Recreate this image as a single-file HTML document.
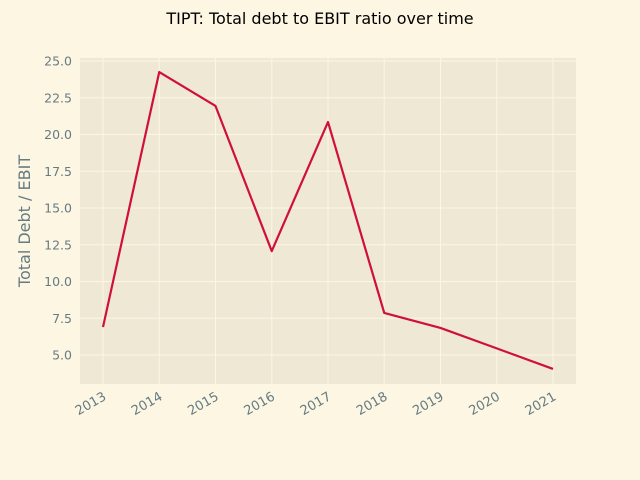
<!DOCTYPE html>
<html><head><meta charset="utf-8"><style>
body{margin:0;background:#fdf6e3;}
svg{display:block;font-family:"DejaVu Sans","Liberation Sans",sans-serif;}
</style></head><body>
<svg id="chart" width="640" height="480">
<rect width="640" height="480" fill="#fdf6e3"/>
<text x="320" y="24" text-anchor="middle" font-size="16" fill="#000">TIPT: Total debt to EBIT ratio over time</text>
<rect x="80" y="58" width="496" height="326" fill="#eee8d5"/>
<g id="grid"></g><g id="ticks"></g><g id="series"></g>
<text transform="translate(30,221) rotate(-90)" text-anchor="middle" font-size="16" fill="#657b83">Total Debt / EBIT</text>
</svg>
<script>
const years=[2013,2014,2015,2016,2017,2018,2019,2020,2021];
const ratios=[6.9,24.25,21.94,12.07,20.85,7.86,6.84,5.45,4.05];
const yTicks=[5,7.5,10,12.5,15,17.5,20,22.5,25];
const ns='http://www.w3.org/2000/svg';
const X=v=>103+(v-2013)*56.25;
const Y=v=>355-(v-5)*14.7;
const grid=document.getElementById('grid'),ticks=document.getElementById('ticks'),ser=document.getElementById('series');
function mk(t,a,p){const e=document.createElementNS(ns,t);for(const k in a)e.setAttribute(k,a[k]);p.appendChild(e);return e;}
years.forEach(y=>{
 const g=mk('line',{x1:X(y),x2:X(y),y1:58,y2:384,stroke:'#fdf6e3','stroke-width':1},grid);
 
 
 const t=mk('text',{transform:`translate(${X(y)+4},${399}) rotate(-30)`,'text-anchor':'end','font-size':13,fill:'#657b83'},ticks);
 t.textContent=y;
 
 
});
yTicks.forEach(v=>{
 const g=mk('line',{x1:80,x2:576,y1:Y(v),y2:Y(v),stroke:'#fdf6e3','stroke-width':1},grid);
 
 
 const t=mk('text',{x:72,y:Y(v)+4.5,'text-anchor':'end','font-size':12.5,fill:'#657b83'},ticks);
 t.textContent=v.toFixed(1);
 
 
});
const pts=years.map((y,i)=>X(y)+','+Y(ratios[i])).join(' ');
const l=mk('polyline',{points:pts,fill:'none',stroke:'#d0103a','stroke-width':2.2,'stroke-linejoin':'round'},ser);


</script>
</body></html>
